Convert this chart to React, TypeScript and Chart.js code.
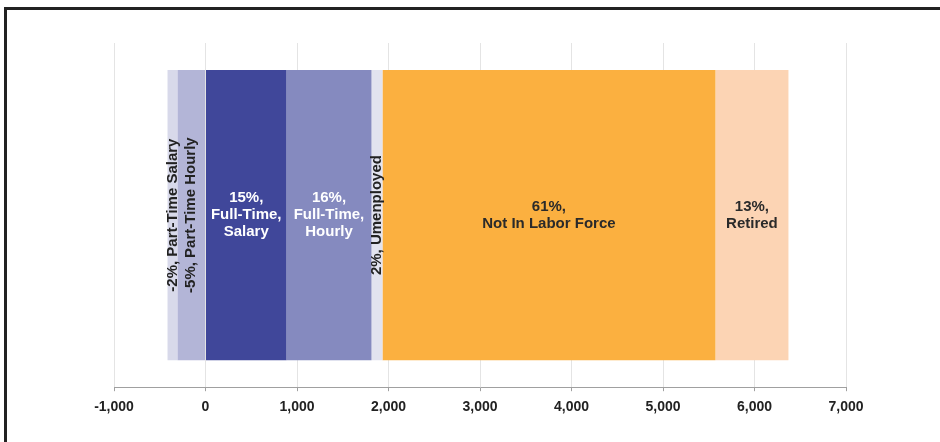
import { useEffect, useRef } from "react";
import { Chart, registerables, Plugin } from "chart.js";

Chart.register(...registerables);

// stacking order: negatives grow left from 0, positives right from 0
const SEGMENTS = [
  "Part-Time Hourly",
  "Part-Time Salary",
  "Full-Time Salary",
  "Full-Time Hourly",
  "Umenployed",
  "Not In Labor Force",
  "Retired",
];
const VALUES = [-305, -110, 885, 929, 120, 3639, 798];
const PCTS = ["-5%", "-2%", "15%", "16%", "2%", "61%", "13%"];
const LABEL_LINES = [
  ["-5%, Part-Time Hourly"],
  ["-2%, Part-Time Salary"],
  ["15%,", "Full-Time,", "Salary"],
  ["16%,", "Full-Time,", "Hourly"],
  ["2%, Umenployed"],
  ["61%,", "Not In Labor Force"],
  ["13%,", "Retired"],
];
const ROTATED = [true, true, false, false, true, false, false];
const X_MIN = -1000;
const X_MAX = 7000;
const X_STEP = 1000;

const COLORS = ["#b3b5d7", "#d8d9ea", "#40479a", "#858abf", "#e2e3ef", "#fbb040", "#fcd4b4"];
const TEXT_COLORS = ["#222", "#222", "#fff", "#fff", "#222", "#2a2a2a", "#2a2a2a"];
const FONT = "'Liberation Sans', Arial, sans-serif";

const segmentLabels: Plugin<"bar"> = {
  id: "segmentLabels",
  afterDatasetsDraw(chart) {
    const ctx = chart.ctx;
    chart.data.datasets.forEach((_, i) => {
      const el: any = chart.getDatasetMeta(i).data[0];
      if (!el) return;
      const cx = (el.x + el.base) / 2;
      const cy = el.y;
      const lines = LABEL_LINES[i];
      ctx.save();
      ctx.fillStyle = TEXT_COLORS[i];
      ctx.font = `bold 15px ${FONT}`;
      ctx.textAlign = "center";
      ctx.textBaseline = "middle";
      if (ROTATED[i]) {
        ctx.translate(cx, cy);
        ctx.rotate(-Math.PI / 2);
        ctx.fillText(lines[0], 0, 0);
      } else {
        const lh = 17;
        const start = cy - ((lines.length - 1) * lh) / 2;
        lines.forEach((t, k) => ctx.fillText(t, cx, start + k * lh));
      }
      ctx.restore();
    });
  },
};

export default function App() {
  const ref = useRef<HTMLCanvasElement | null>(null);
  const chartRef = useRef<Chart<"bar"> | null>(null);

  useEffect(() => {
    if (!ref.current) return;
    chartRef.current?.destroy();
    chartRef.current = new Chart(ref.current, {
      type: "bar",
      data: {
        labels: ["Population"],
        datasets: SEGMENTS.map((name, i) => ({
          label: `${PCTS[i]}, ${name}`,
          data: [VALUES[i]],
          backgroundColor: COLORS[i],
          borderWidth: 0,
          barPercentage: 0.843,
          categoryPercentage: 1,
        })),
      },
      options: {
        indexAxis: "y",
        animation: false,
        responsive: true,
        maintainAspectRatio: false,
        layout: { padding: { left: 114, right: 94, top: 43, bottom: 18 } },
        plugins: {
          legend: { display: false },
          tooltip: { enabled: false },
        },
        scales: {
          y: { stacked: true, display: false },
          x: {
            stacked: true,
            min: X_MIN,
            max: X_MAX,
            grid: {
              color: "#e4e4e4",
              lineWidth: 1,
              tickLength: 4,
              tickColor: "#a0a0a0",
            },
            border: { color: "#a0a0a0", width: 1 },
            ticks: {
              stepSize: X_STEP,
              padding: 8,
              color: "#222",
              font: { family: FONT, size: 14, weight: "bold" },
              callback: (v) => Number(v).toLocaleString("en-US"),
            },
          },
        },
      },
      plugins: [segmentLabels],
    });
    return () => {
      chartRef.current?.destroy();
      chartRef.current = null;
    };
  }, []);

  return (
    <div
      style={{
        position: "fixed",
        left: 0,
        top: 0,
        width: 940,
        height: 442,
        overflow: "hidden",
        background: "#fff",
      }}
    >
      <div
        style={{
          position: "absolute",
          left: 4,
          top: 7,
          width: 960,
          height: 460,
          borderLeft: "3px solid #222",
          borderTop: "3px solid #222",
        }}
      />
      <div style={{ position: "absolute", left: 0, top: 0, width: 940, height: 442 }}>
        <canvas ref={ref} aria-label="Population by employment status" />
      </div>
    </div>
  );
}
